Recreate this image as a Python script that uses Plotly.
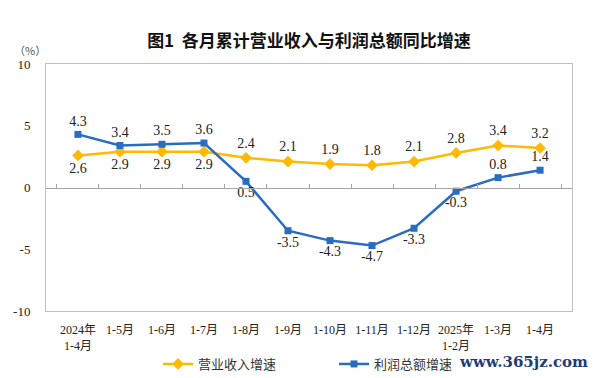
import plotly.graph_objects as go

categories = ["2024年<br>1-4月", "1-5月", "1-6月", "1-7月", "1-8月", "1-9月", "1-10月",
              "1-11月", "1-12月", "2025年<br>1-2月", "1-3月", "1-4月"]
revenue = [2.6, 2.9, 2.9, 2.9, 2.4, 2.1, 1.9, 1.8, 2.1, 2.8, 3.4, 3.2]
profit = [4.3, 3.4, 3.5, 3.6, 0.5, -3.5, -4.3, -4.7, -3.3, -0.3, 0.8, 1.4]
revenue_name = "营业收入增速"
profit_name = "利润总额增速"
rev_label_pos = ["bottom center"] * 4 + ["top center"] * 8
prof_label_pos = ["top center"] * 4 + ["bottom center"] * 6 + ["top center"] * 2
y_tickvals = [-10, -5, 0, 5, 10]
y_ticktext = ["-10", "-5", "0", "5", "10"]
title_text = "图1  各月累计营业收入与利润总额同比增速"
unit_text = "（%）"
watermark = "www.365jz.com"

ORANGE = "#FFB900"
BLUE = "#2A6CC0"
SERIF = "Liberation Serif, Noto Sans CJK SC"
CJK = "Noto Sans CJK SC"

PW = 526.0
PH = 247.0

fig = go.Figure()
fig.add_trace(go.Scatter(
    x=categories, y=revenue, name=revenue_name, mode="lines+markers+text",
    line=dict(color=ORANGE, width=2.5),
    marker=dict(symbol="diamond", size=9, color=ORANGE),
    text=[f"{v:.1f}" for v in revenue], textposition=rev_label_pos,
    textfont=dict(family=SERIF, size=14, color="#222222"),
))
fig.add_trace(go.Scatter(
    x=categories, y=profit, name=profit_name, mode="lines+markers+text",
    line=dict(color=BLUE, width=2.5),
    marker=dict(symbol="square", size=7, color=BLUE),
    text=[f"{v:.1f}" for v in profit], textposition=prof_label_pos,
    textfont=dict(family=SERIF, size=14, color="#222222"),
))
# invisible helper trace for the zero-line tick axis
fig.add_trace(go.Scatter(
    x=categories, y=revenue, xaxis="x2", mode="markers",
    marker=dict(opacity=0), showlegend=False, hoverinfo="skip",
))

fig.update_layout(
    width=600, height=378,
    margin=dict(l=46, r=28, t=64, b=67, autoexpand=False),
    paper_bgcolor="white", plot_bgcolor="white",
    title=dict(text=title_text, x=0.5, xref="paper", xanchor="center",
               y=1 - 41 / 378, yref="container", yanchor="middle",
               font=dict(family=CJK, size=17, color="#111111", weight="bold")),
    xaxis=dict(type="category", showline=True, mirror=True, linecolor="#C0C0C0",
               linewidth=1, ticks="", showgrid=False, zeroline=False,
               tickfont=dict(family=SERIF, size=12, color="#222222"),
               ticklabelstandoff=8),
    xaxis2=dict(type="category", overlaying="x", matches="x", anchor="free",
                position=0.5, showline=True, linecolor="#A6A6A6", linewidth=1,
                ticks="inside", ticklen=4, tickcolor="#A6A6A6", tickson="boundaries",
                showticklabels=False, showgrid=False, zeroline=False),
    yaxis=dict(range=[-10, 10], tickvals=y_tickvals, ticktext=y_ticktext,
               showline=True, mirror=True, linecolor="#C0C0C0", linewidth=1,
               showgrid=False, zeroline=False, ticks="",
               tickfont=dict(family=SERIF, size=13, color="#222222"),
               ticklabelstandoff=12),
    legend=dict(orientation="h", x=(158 - 46 - 31 + 26 + 5) / PW, xanchor="left",
                y=-(364 - 311) / PH, yanchor="middle",
                font=dict(family=CJK, size=13, color="#333333"),
                entrywidth=131, entrywidthmode="pixels", bgcolor="rgba(0,0,0,0)"),
    showlegend=True,
    annotations=[
        dict(text=unit_text, xref="paper", yref="paper", x=(12 - 46) / PW,
             xanchor="left", y=1 + (64 - 50) / PH, yanchor="middle",
             showarrow=False, font=dict(family=CJK, size=11, color="#555555")),
        dict(text=watermark, xref="paper", yref="paper", x=(590 - 46) / PW,
             xanchor="right", y=-(362 - 311) / PH, yanchor="middle",
             showarrow=False,
             font=dict(family="DejaVu Serif", size=15, color="#1E3C78", weight="bold")),
    ],
)

fig.write_html("out.html", config={"displayModeBar": False},
               post_script="document.body.style.margin='0';")
